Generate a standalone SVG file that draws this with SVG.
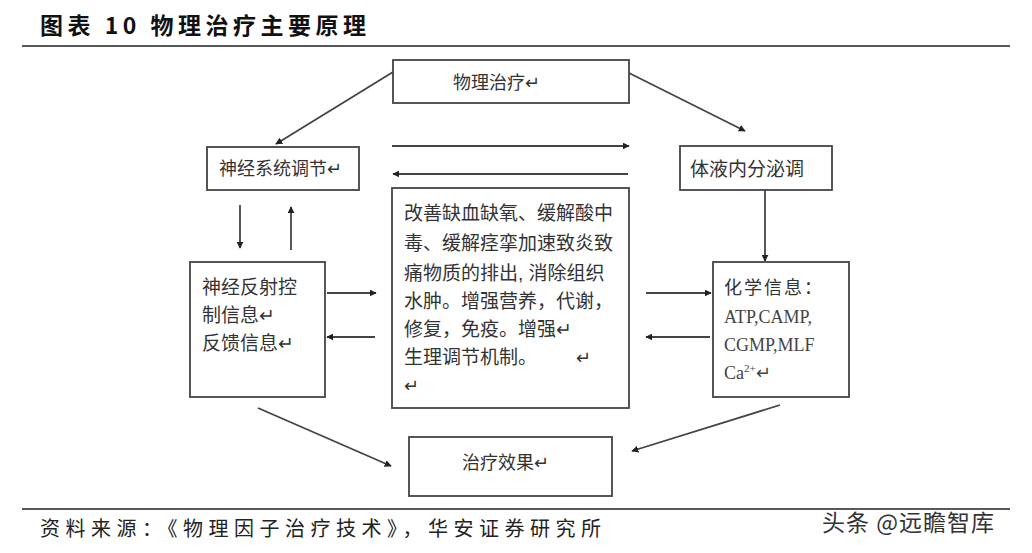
<svg xmlns="http://www.w3.org/2000/svg" width="1032" height="553" viewBox="0 0 1032 553">
<style>
.b{fill:#fff;stroke:#444;stroke-width:1.8}
.t{font-family:"Liberation Sans","Noto Sans CJK SC",sans-serif;font-size:18px;fill:#333}
.m{font-size:19px}
.s{font-family:"Liberation Serif","Noto Sans CJK SC",serif;font-size:18px;fill:#444}
.c{stroke:#444;stroke-width:1.8;fill:none;marker-end:url(#a)}
</style>
<defs><marker id="a" viewBox="0 0 10 10" refX="9" refY="5" markerWidth="7" markerHeight="7" orient="auto" markerUnits="userSpaceOnUse"><path d="M0,0L10,5L0,10z" fill="#222"/></marker></defs>
<rect width="1032" height="553" fill="#fff"/>
<text x="40" y="34" font-family="Noto Sans CJK SC,sans-serif" font-weight="bold" font-size="23" letter-spacing="4.5" fill="#111">图表 10 物理治疗主要原理</text>
<line x1="22" y1="46" x2="1010" y2="46" stroke="#222" stroke-width="1.5"/>
<line x1="22" y1="509" x2="1010" y2="509" stroke="#222" stroke-width="1.5"/>
<text x="40" y="536" font-family="Noto Sans CJK SC,sans-serif" font-size="20" letter-spacing="5.5" fill="#222">资料来源：《物理因子治疗技术》，华安证券研究所</text>
<text x="822" y="531" font-family="Noto Sans CJK SC,sans-serif" font-size="23" letter-spacing="1" fill="#333">头条 @远瞻智库</text>
<g id="connectors">
<line class="c" x1="393" y1="72" x2="276" y2="144"/>
<line class="c" x1="629" y1="73" x2="745" y2="131"/>
<line class="c" x1="392" y1="146" x2="629" y2="146"/>
<line class="c" x1="628" y1="174" x2="393" y2="174"/>
<line class="c" x1="240" y1="205" x2="240" y2="248"/>
<line class="c" x1="291" y1="250" x2="291" y2="207"/>
<line class="c" x1="765" y1="190" x2="765" y2="261"/>
<line class="c" x1="327" y1="293" x2="376" y2="293"/>
<line class="c" x1="375" y1="337" x2="327" y2="337"/>
<line class="c" x1="646" y1="293" x2="711" y2="293"/>
<line class="c" x1="710" y1="337" x2="646" y2="337"/>
<line class="c" x1="258" y1="408" x2="391" y2="466"/>
<line class="c" x1="780" y1="405" x2="632" y2="451"/>
</g>
<g id="n1"><rect class="b" x="393" y="60" width="236" height="43"/><text class="t" x="453" y="89">物理治疗↵</text></g>
<g id="n2"><rect class="b" x="207" y="147" width="152" height="43"/><text class="t" x="219" y="175">神经系统调节↵</text></g>
<g id="n3"><rect class="b" x="680" y="146" width="152" height="44"/><text class="t m" x="690" y="176">体液内分泌调</text></g>
<g id="n4"><rect class="b" x="392" y="188" width="237" height="220"/>
<text class="t m" x="404" y="220">改善缺血缺氧、缓解酸中</text>
<text class="t m" x="404" y="250">毒、缓解痉挛加速致炎致</text>
<text class="t m" x="404" y="280">痛物质的排出, 消除组织</text>
<text class="t m" x="404" y="308">水肿。增强营养，代谢，</text>
<text class="t m" x="404" y="336">修复，免疫。增强↵</text>
<text class="t m" x="404" y="364">生理调节机制。</text>
<text class="t" x="576" y="364" font-size="11">↵</text>
<text class="t" x="404" y="392" font-size="11">↵</text></g>
<g id="n5"><rect class="b" x="190" y="262" width="135" height="135"/>
<text class="t m" x="202" y="294">神经反射控</text>
<text class="t m" x="202" y="322">制信息↵</text>
<text class="t m" x="202" y="350">反馈信息↵</text></g>
<g id="n6"><rect class="b" x="713" y="262" width="136" height="135"/>
<text class="t" x="724" y="294" letter-spacing="2">化学信息：</text>
<text class="s" x="724" y="323">ATP,CAMP,</text>
<text class="s" x="724" y="351">CGMP,MLF</text>
<text class="s" x="724" y="379">Ca<tspan font-size="11" dy="-7">2+</tspan><tspan dy="7">↵</tspan></text></g>
<g id="n7"><rect class="b" x="409" y="437" width="203" height="59"/><text class="t" x="462" y="469">治疗效果↵</text></g>
</svg>
